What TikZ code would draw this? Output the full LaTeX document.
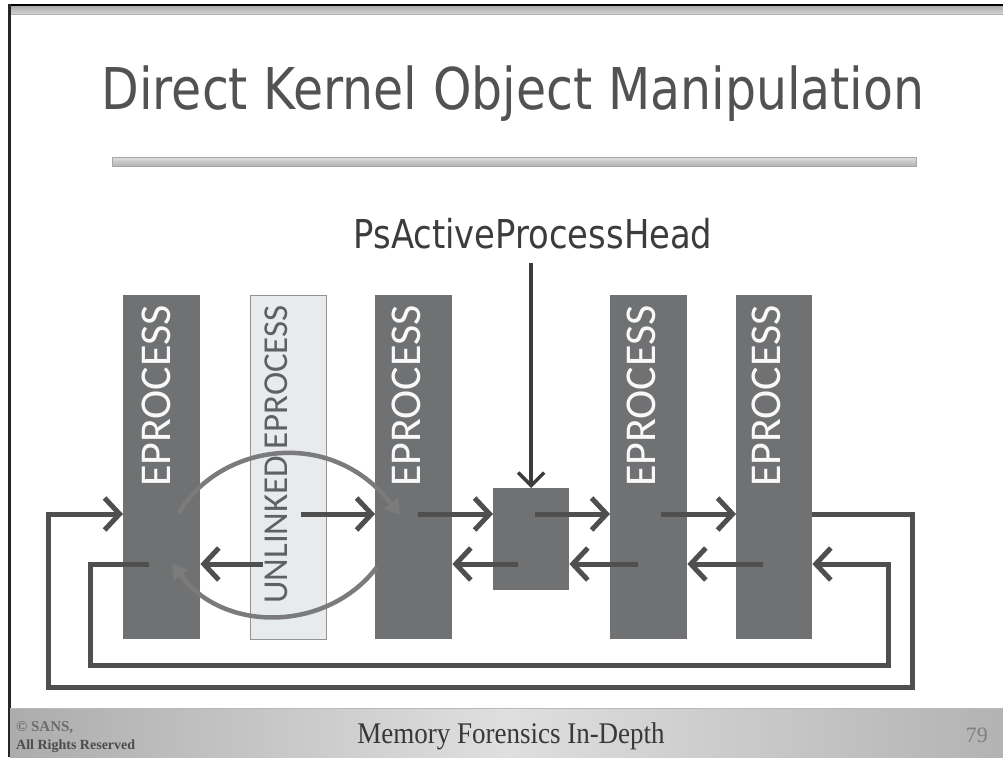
\documentclass[tikz,border=0pt]{standalone}
\usepackage{fontspec}
\usetikzlibrary{arrows.meta,calc}
\newfontfamily\headfont[FakeStretch=0.85]{DejaVu Sans}
\newfontfamily\boxfont{Carlito}
\newfontfamily\footfont{Liberation Serif}
\newfontfamily\footwide[FakeStretch=0.9]{Liberation Serif}
\definecolor{colgray}{HTML}{707172}
\definecolor{linkgray}{HTML}{4F4F4F}
\definecolor{curvegray}{HTML}{7B7B7B}
\definecolor{paleblue}{HTML}{E8EBEE}
\definecolor{titlegray}{HTML}{525252}
\definecolor{headgray}{HTML}{3C3C3C}
\begin{document}
\begin{tikzpicture}[x=1pt,y=-1pt,
  proc/.style={fill=colgray, draw=none, minimum width=77pt, minimum height=344pt,
    anchor=north west, inner sep=0pt},
  unlinked/.style={proc, fill=paleblue, draw=gray!85, line width=1pt, minimum width=76pt},
  headbox/.style={fill=colgray, draw=none, minimum width=76pt, minimum height=102pt,
    anchor=north west, inner sep=0pt},
  proclabel/.style={rotate=90, anchor=base east, inner sep=0pt, text=white!95!gray,
    font=\boxfont\fontsize{44}{44}\selectfont},
  unlinkedlabel/.style={proclabel, text=gray!75!black, font=\boxfont\fontsize{35}{35}\selectfont},
  link/.style={draw=linkgray, line width=5pt, -{Straight Barb[length=15pt,width=32pt]}},
  bypass/.style={draw=curvegray, line width=4.5pt,
    -{Triangle[length=15pt,width=17pt]}},
  headlink/.style={draw=headgray, line width=3.5pt, -{Straight Barb[length=13pt,width=26pt]}}
]
\useasboundingbox (0,0) rectangle (1003,757);

% slide frame: top rule and left edge
\shade[top color=gray!70, bottom color=gray!30] (10,5) rectangle (1003,15);
\draw[black, line width=1.5pt] (10,5) -- (1003,5);
\draw[gray!60, line width=1pt] (10,15) -- (1003,15);
\draw[black!85, line width=2.5pt] (9.5,4) -- (9.5,757);

% title and underline bar
\node[anchor=base, inner sep=0pt, text=titlegray,
  font=\headfont\fontsize{57.6}{60}\selectfont] (ttl) at (513,110)
  {Direct Kernel Object Manipulation};
\shade[top color=gray!25, bottom color=gray!60, draw=gray!70, line width=0.8pt]
  (112,157) rectangle (916,166);

% process blocks
\node[proc] (p1) at (123,295) {};
\node[unlinked] (pu) at (250,295) {};
\node[proc] (p3) at (375,295) {};
\node[headbox] (hd) at (493,488) {};
\node[proc] (p4) at (610,295) {};
\node[proc, minimum width=76pt] (p5) at (736,295) {};

\node[proclabel] (t1) at ($(p1.north west)+(47,10)$) {EPROCESS};
\node[unlinkedlabel] (tu) at ($(pu.north west)+(37,10)$) {UNLINKED\,EPROCESS};
\node[proclabel] (t3) at ($(p3.north west)+(45,10)$) {EPROCESS};
\node[proclabel] (t4) at ($(p4.north west)+(45,10)$) {EPROCESS};
\node[proclabel] (t5) at ($(p5.north west)+(44,10)$) {EPROCESS};

% list head
\node[anchor=base, inner sep=0pt, text=headgray,
  font=\headfont\fontsize{39.8}{42}\selectfont] (ps) at (533,248)
  {PsActiveProcessHead};
\draw[headlink, shorten <=14pt] (hd.north |- ps.south) -- (hd.north);

% rows of the doubly linked list
\coordinate (fwd) at (0,514);
\coordinate (bwd) at (0,564);
\coordinate (ro) at (912,687);
\coordinate (lo) at (48,687);
\coordinate (ri) at (888,665);
\coordinate (li) at (90,665);

% Flink chain
\draw[link] (p5.east |- fwd) -| (ro) -- (lo) |- (p1.west |- fwd);
\draw[link] ($(pu.center |- fwd)+(12,0)$) -- (p3.west |- fwd);
\draw[link] ($(p3.center |- fwd)+(4,0)$) -- (hd.west |- fwd);
\draw[link] ($(hd.center |- fwd)+(4,0)$) -- (p4.west |- fwd);
\draw[link] ($(p4.center |- fwd)+(12,0)$) -- (p5.west |- fwd);

% Blink chain
\draw[link] ($(p1.center |- bwd)+(-13,0)$) -| (li) -- (ri) |- (p5.east |- bwd);
\draw[link] ($(p5.center |- bwd)+(-11,0)$) -- (p4.east |- bwd);
\draw[link] ($(p4.center |- bwd)+(-11,0)$) -- (hd.east |- bwd);
\draw[link] ($(hd.center |- bwd)+(-13,0)$) -- (p3.east |- bwd);
\draw[link] ($(pu.center |- bwd)+(-26,0)$) -- (p1.east |- bwd);

% links rewritten around the hidden block
\draw[bypass] ($(p1.center |- fwd)+(17,-1)$) .. controls +(40,-68) and +(-70,-90) ..
  ($(p3.west |- fwd)+(25,1)$);
\draw[bypass] ($(p3.west |- bwd)+(2,3)$) .. controls +(-50,66) and +(50,70) ..
  ($(p1.center |- bwd)+(10.5,-1)$);

% footer band
\shade[left color=gray!65, right color=gray!60, middle color=gray!25]
  (10,708) rectangle (1003,757);
\draw[gray!55, line width=0.8pt] (10,708) -- (1003,708);
\node[anchor=base west, inner sep=0pt, text=gray!85!black,
  font=\footfont\bfseries\fontsize{15}{15}\selectfont] (cp) at (16,731) {© SANS,};
\node[anchor=base west, inner sep=0pt, text=black!70,
  font=\footfont\bfseries\fontsize{14}{14}\selectfont] (rr) at (16,749) {All Rights Reserved};
\node[anchor=base, inner sep=0pt, text=black!78,
  font=\footwide\fontsize{30}{30}\selectfont] (ft) at (511,743) {Memory Forensics In-Depth};
\node[anchor=base east, inner sep=0pt, text=gray,
  font=\footfont\fontsize{22}{22}\selectfont] (pg) at (988,742) {79};
\end{tikzpicture}
\end{document}
